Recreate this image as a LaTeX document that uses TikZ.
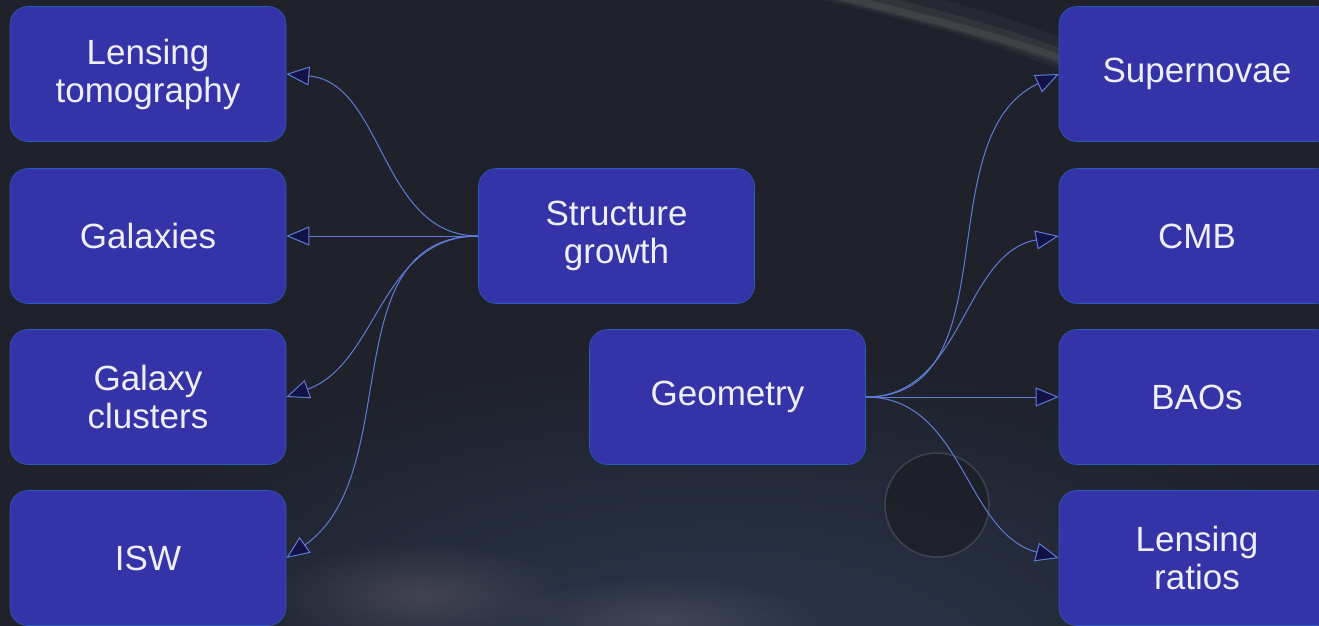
\documentclass[tikz,border=0pt]{standalone}
\usepackage{fontspec}
\setmainfont{Liberation Sans}
\usetikzlibrary{arrows.meta,fadings}
\definecolor{bgc}{RGB}{31,34,43}
\definecolor{bgblue}{RGB}{46,58,84}
\definecolor{nebula}{RGB}{120,110,115}
\definecolor{boxc}{RGB}{52,52,168}
\definecolor{txtc}{RGB}{238,238,245}
\definecolor{linec}{RGB}{95,125,215}
\definecolor{arrowc}{RGB}{18,18,70}
\definecolor{rimc}{RGB}{90,96,110}
\definecolor{planetc}{RGB}{30,32,40}
\definecolor{glowc}{RGB}{165,165,150}
\tikzfading[name=radfade, inner color=transparent!0, outer color=transparent!100]
\tikzset{
  box/.style={rectangle, rounded corners=18pt, fill=boxc, draw=boxc!80!cyan, line width=0.6pt,
    minimum width=276pt, minimum height=135pt, inner sep=0pt, align=center,
    text=txtc, font=\fontsize{35}{38}\selectfont},
  conn/.style={draw=linec, line width=1pt,
    -{Triangle[length=23pt,width=19pt,fill=arrowc]}},
}
\begin{document}
\begin{tikzpicture}[x=1pt,y=-1pt]
\useasboundingbox (0,0) rectangle (1319,625);
% background
\fill[bgc] (-5,-5) rectangle (1324,630);
\fill[bgblue, opacity=0.9, path fading=radfade] (720,680) ellipse (700 and 330);
\fill[nebula, opacity=0.35, path fading=radfade] (420,595) ellipse (150 and 55);
\fill[nebula, opacity=0.3, path fading=radfade] (660,620) ellipse (160 and 45);
% glowing limb at top right
\begin{scope}
\clip (800,-5) rectangle (1080,120);
\draw[glowc, line width=30pt, opacity=0.06] (820,-16) .. controls (920,8) and (1000,28) .. (1080,62);
\draw[glowc, line width=16pt, opacity=0.09] (825,-10) .. controls (920,13) and (1000,33) .. (1080,64);
\draw[glowc, line width=7pt, opacity=0.12] (830,-6) .. controls (920,16) and (1000,36) .. (1080,65);
\end{scope}
% planet
\fill[planetc, opacity=0.9] (937,505) circle (52);
\draw[rimc, line width=1.5pt, opacity=0.5] (937,505) circle (52);
% nodes
\node[box] (lt) at (148,74) {Lensing\\tomography};
\node[box] (gal) at (148,236) {Galaxies};
\node[box] (gc) at (148,397) {Galaxy\\clusters};
\node[box] (isw) at (148,558) {ISW};
\node[box] (sg) at (616.5,236) {Structure\\growth};
\node[box] (geo) at (727.5,397) {Geometry};
\node[box] (sn) at (1197,74) {Supernovae};
\node[box] (cmb) at (1197,236) {CMB};
\node[box] (bao) at (1197,397) {BAOs};
\node[box] (lr) at (1197,558) {Lensing\\ratios};
% connectors
\draw[conn] (sg.west) to[out=180,in=-5] (lt.east);
\draw[conn] (sg.west) -- (gal.east);
\draw[conn] (sg.west) to[out=180,in=20] (gc.east);
\draw[conn] (sg.west) to[out=180,in=35] (isw.east);
\draw[conn] (geo.east) to[out=0,in=205] (sn.west);
\draw[conn] (geo.east) to[out=0,in=190] (cmb.west);
\draw[conn] (geo.east) -- (bao.west);
\draw[conn] (geo.east) to[out=0,in=165] (lr.west);
\end{tikzpicture}
\end{document}
